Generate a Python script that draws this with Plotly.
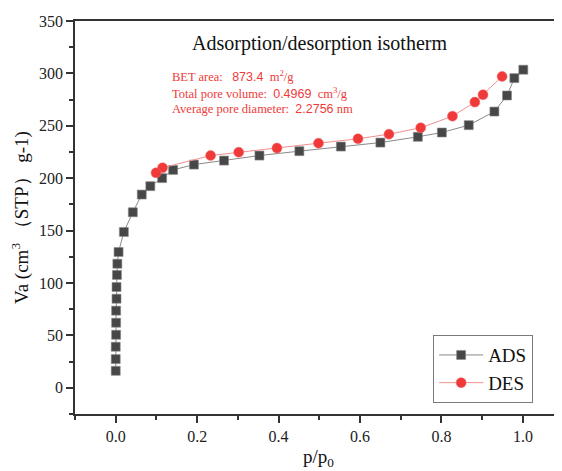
import plotly.graph_objects as go

# ---- data ----
ads_p = [0.000, 0.000, 0.000, 0.001, 0.001, 0.001, 0.002, 0.002, 0.003, 0.004,
         0.007, 0.020, 0.042, 0.064, 0.085, 0.114, 0.141, 0.192, 0.266, 0.353,
         0.451, 0.553, 0.650, 0.742, 0.801, 0.867, 0.930, 0.961, 0.979, 1.001]
ads_v = [16.2, 27.4, 39.2, 50.6, 62.1, 73.6, 85.0, 96.2, 107.7, 118.4,
         129.6, 148.7, 167.5, 184.4, 192.4, 200.1, 207.9, 213.0, 216.8, 221.6,
         225.8, 230.2, 234.0, 239.5, 243.6, 250.6, 263.6, 278.9, 295.5, 303.5]

des_p = [0.949, 0.902, 0.882, 0.827, 0.749, 0.671, 0.595, 0.498, 0.396, 0.302,
         0.233, 0.115, 0.099]
des_v = [297.1, 279.6, 272.6, 259.2, 248.1, 242.0, 237.6, 233.4, 228.7, 224.8,
         221.6, 209.9, 205.1]

x_ticks = [0.0, 0.2, 0.4, 0.6, 0.8, 1.0]
y_ticks = [0, 50, 100, 150, 200, 250, 300, 350]

title_text = "Adsorption/desorption isotherm"
bet_area = "873.4"
pore_volume = "0.4969"
pore_diameter = "2.2756"

SERIF = "Liberation Serif, Times New Roman, serif"
RED = "#f03a3a"
AXIS = "#333333"

# page has an 8px body margin; lay the figure out in page pixels
OFF = 8
PAGE_W, PAGE_H = 562, 471
W, H = PAGE_W - OFF, PAGE_H - OFF
PLOT_L, PLOT_R, PLOT_T, PLOT_B = 74.5, 562, 21, 414.5   # page pixels
ML = PLOT_L - OFF
MR = 0
MT = PLOT_T - OFF
MB = H - (PLOT_B - OFF)
PW, PH = PLOT_R - PLOT_L, PLOT_B - PLOT_T


def px_x(px):
    return (px - PLOT_L) / PW


def px_y(py):
    return (PLOT_B - py) / PH


fig = go.Figure()
fig.add_trace(go.Scatter(
    x=ads_p, y=ads_v, name="ADS", mode="lines+markers",
    line=dict(color="#8a8a8a", width=1),
    marker=dict(symbol="square", size=9, color="#474747",
                line=dict(color="#8a8a8a", width=0.6)),
))
fig.add_trace(go.Scatter(
    x=des_p, y=des_v, name="DES", mode="lines+markers",
    line=dict(color="#f39090", width=1),
    marker=dict(symbol="circle", size=10, color=RED,
                line=dict(color="#f06a6a", width=0.5)),
))

sans_span = "<span style='font-family:Liberation Sans, Arial, sans-serif'>{}</span>"
annots = [
    dict(text=title_text, x=px_x(319), y=px_y(44), xanchor="center", yanchor="middle",
         font=dict(family=SERIF, size=20, color="#111111")),
    dict(text="BET area:\u00a0\u00a0 " + sans_span.format(bet_area) + "\u00a0 m<sup>2</sup>/g",
         x=px_x(170), y=px_y(76), xanchor="left", yanchor="middle",
         font=dict(family=SERIF, size=12.5, color=RED)),
    dict(text="Total pore volume:\u00a0 " + sans_span.format(pore_volume) + "\u00a0 cm<sup>3</sup>/g",
         x=px_x(170), y=px_y(93), xanchor="left", yanchor="middle",
         font=dict(family=SERIF, size=12.5, color=RED)),
    dict(text="Average pore diameter:\u00a0 " + sans_span.format(pore_diameter) + " nm",
         x=px_x(170), y=px_y(109.5), xanchor="left", yanchor="middle",
         font=dict(family=SERIF, size=12.5, color=RED)),
]
for a in annots:
    fig.add_annotation(xref="paper", yref="paper", showarrow=False, **a)

fig.update_layout(
    width=W, height=H,
    margin=dict(l=ML, r=MR, t=MT, b=MB, pad=0),
    paper_bgcolor="white", plot_bgcolor="white",
    font=dict(family=SERIF, color="#222222"),
    legend=dict(
        x=px_x(433), y=px_y(335.5), xanchor="left", yanchor="top",
        bordercolor="#7a7a7a", borderwidth=1, bgcolor="white",
        font=dict(family=SERIF, size=19, color="#111111"),
        tracegroupgap=0, itemwidth=44,
    ),
    showlegend=True,
)

fig.update_xaxes(
    range=[-0.1, -0.1 + PW / 407.6],
    showgrid=False, zeroline=False,
    showline=True, linecolor=AXIS, linewidth=1.6, mirror=True,
    ticks="outside", ticklen=7, tickwidth=1.5, tickcolor=AXIS,
    tickvals=x_ticks, ticktext=[f"{v:.1f}" for v in x_ticks],
    tickfont=dict(family=SERIF, size=16, color="#222222"),
    minor=dict(ticks="outside", ticklen=4, tickwidth=1.5, tickcolor=AXIS,
               dtick=0.1, tick0=0, showgrid=False),
    title=dict(text="p/p<sub>0</sub>", font=dict(family=SERIF, size=19, color="#111111"),
               standoff=6),
    automargin=False,
)
fig.update_yaxes(
    range=[-25, 350],
    showgrid=False, zeroline=False,
    showline=True, linecolor=AXIS, linewidth=1.6,
    ticks="outside", ticklen=7, tickwidth=1.5, tickcolor=AXIS,
    tickvals=y_ticks, ticktext=[str(v) for v in y_ticks],
    tickfont=dict(family=SERIF, size=16, color="#222222"),
    minor=dict(ticks="outside", ticklen=4, tickwidth=1.5, tickcolor=AXIS,
               dtick=25, tick0=0, showgrid=False),
    title=dict(text="Va (cm<sup>3</sup>\u00a0（STP）\u00a0g-1)",
               font=dict(family=SERIF, size=19, color="#111111"), standoff=6),
    automargin=False,
)

fig.write_html("out.html")
